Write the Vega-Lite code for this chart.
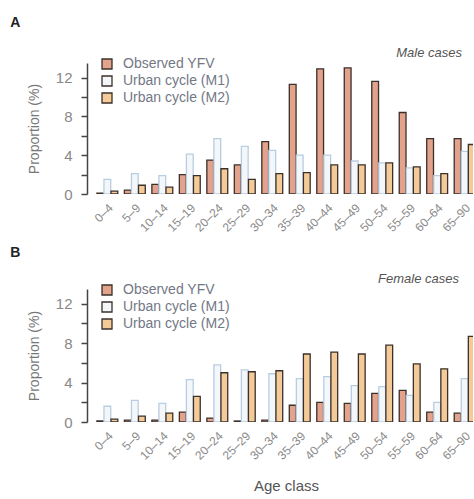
{
  "$schema": "https://vega.github.io/schema/vega-lite/v6.json",
  "padding": {"left": 10, "top": 15, "right": 0, "bottom": 4},
  "background": "white",
  "data": {"values": [
    {"sex": "Male", "age": "0–4", "series": "Observed YFV", "value": 0.1},
    {"sex": "Male", "age": "0–4", "series": "Urban cycle (M1)", "value": 1.5},
    {"sex": "Male", "age": "0–4", "series": "Urban cycle (M2)", "value": 0.3},
    {"sex": "Male", "age": "5–9", "series": "Observed YFV", "value": 0.4},
    {"sex": "Male", "age": "5–9", "series": "Urban cycle (M1)", "value": 2.1},
    {"sex": "Male", "age": "5–9", "series": "Urban cycle (M2)", "value": 0.9},
    {"sex": "Male", "age": "10–14", "series": "Observed YFV", "value": 1.0},
    {"sex": "Male", "age": "10–14", "series": "Urban cycle (M1)", "value": 1.9},
    {"sex": "Male", "age": "10–14", "series": "Urban cycle (M2)", "value": 0.7},
    {"sex": "Male", "age": "15–19", "series": "Observed YFV", "value": 2.0},
    {"sex": "Male", "age": "15–19", "series": "Urban cycle (M1)", "value": 4.1},
    {"sex": "Male", "age": "15–19", "series": "Urban cycle (M2)", "value": 1.9},
    {"sex": "Male", "age": "20–24", "series": "Observed YFV", "value": 3.5},
    {"sex": "Male", "age": "20–24", "series": "Urban cycle (M1)", "value": 5.7},
    {"sex": "Male", "age": "20–24", "series": "Urban cycle (M2)", "value": 2.6},
    {"sex": "Male", "age": "25–29", "series": "Observed YFV", "value": 3.0},
    {"sex": "Male", "age": "25–29", "series": "Urban cycle (M1)", "value": 4.9},
    {"sex": "Male", "age": "25–29", "series": "Urban cycle (M2)", "value": 1.5},
    {"sex": "Male", "age": "30–34", "series": "Observed YFV", "value": 5.4},
    {"sex": "Male", "age": "30–34", "series": "Urban cycle (M1)", "value": 4.5},
    {"sex": "Male", "age": "30–34", "series": "Urban cycle (M2)", "value": 2.1},
    {"sex": "Male", "age": "35–39", "series": "Observed YFV", "value": 11.3},
    {"sex": "Male", "age": "35–39", "series": "Urban cycle (M1)", "value": 4.0},
    {"sex": "Male", "age": "35–39", "series": "Urban cycle (M2)", "value": 2.2},
    {"sex": "Male", "age": "40–44", "series": "Observed YFV", "value": 12.9},
    {"sex": "Male", "age": "40–44", "series": "Urban cycle (M1)", "value": 4.0},
    {"sex": "Male", "age": "40–44", "series": "Urban cycle (M2)", "value": 3.0},
    {"sex": "Male", "age": "45–49", "series": "Observed YFV", "value": 13.0},
    {"sex": "Male", "age": "45–49", "series": "Urban cycle (M1)", "value": 3.4},
    {"sex": "Male", "age": "45–49", "series": "Urban cycle (M2)", "value": 3.0},
    {"sex": "Male", "age": "50–54", "series": "Observed YFV", "value": 11.6},
    {"sex": "Male", "age": "50–54", "series": "Urban cycle (M1)", "value": 3.2},
    {"sex": "Male", "age": "50–54", "series": "Urban cycle (M2)", "value": 3.2},
    {"sex": "Male", "age": "55–59", "series": "Observed YFV", "value": 8.4},
    {"sex": "Male", "age": "55–59", "series": "Urban cycle (M1)", "value": 2.7},
    {"sex": "Male", "age": "55–59", "series": "Urban cycle (M2)", "value": 2.8},
    {"sex": "Male", "age": "60–64", "series": "Observed YFV", "value": 5.7},
    {"sex": "Male", "age": "60–64", "series": "Urban cycle (M1)", "value": 1.9},
    {"sex": "Male", "age": "60–64", "series": "Urban cycle (M2)", "value": 2.1},
    {"sex": "Male", "age": "65–90", "series": "Observed YFV", "value": 5.7},
    {"sex": "Male", "age": "65–90", "series": "Urban cycle (M1)", "value": 4.4},
    {"sex": "Male", "age": "65–90", "series": "Urban cycle (M2)", "value": 5.1},
    {"sex": "Female", "age": "0–4", "series": "Observed YFV", "value": 0.1},
    {"sex": "Female", "age": "0–4", "series": "Urban cycle (M1)", "value": 1.6},
    {"sex": "Female", "age": "0–4", "series": "Urban cycle (M2)", "value": 0.3},
    {"sex": "Female", "age": "5–9", "series": "Observed YFV", "value": 0.2},
    {"sex": "Female", "age": "5–9", "series": "Urban cycle (M1)", "value": 2.2},
    {"sex": "Female", "age": "5–9", "series": "Urban cycle (M2)", "value": 0.6},
    {"sex": "Female", "age": "10–14", "series": "Observed YFV", "value": 0.2},
    {"sex": "Female", "age": "10–14", "series": "Urban cycle (M1)", "value": 1.9},
    {"sex": "Female", "age": "10–14", "series": "Urban cycle (M2)", "value": 0.9},
    {"sex": "Female", "age": "15–19", "series": "Observed YFV", "value": 1.0},
    {"sex": "Female", "age": "15–19", "series": "Urban cycle (M1)", "value": 4.3},
    {"sex": "Female", "age": "15–19", "series": "Urban cycle (M2)", "value": 2.6},
    {"sex": "Female", "age": "20–24", "series": "Observed YFV", "value": 0.4},
    {"sex": "Female", "age": "20–24", "series": "Urban cycle (M1)", "value": 5.8},
    {"sex": "Female", "age": "20–24", "series": "Urban cycle (M2)", "value": 5.0},
    {"sex": "Female", "age": "25–29", "series": "Observed YFV", "value": 0.1},
    {"sex": "Female", "age": "25–29", "series": "Urban cycle (M1)", "value": 5.3},
    {"sex": "Female", "age": "25–29", "series": "Urban cycle (M2)", "value": 5.1},
    {"sex": "Female", "age": "30–34", "series": "Observed YFV", "value": 0.2},
    {"sex": "Female", "age": "30–34", "series": "Urban cycle (M1)", "value": 4.9},
    {"sex": "Female", "age": "30–34", "series": "Urban cycle (M2)", "value": 5.2},
    {"sex": "Female", "age": "35–39", "series": "Observed YFV", "value": 1.7},
    {"sex": "Female", "age": "35–39", "series": "Urban cycle (M1)", "value": 4.4},
    {"sex": "Female", "age": "35–39", "series": "Urban cycle (M2)", "value": 6.9},
    {"sex": "Female", "age": "40–44", "series": "Observed YFV", "value": 2.0},
    {"sex": "Female", "age": "40–44", "series": "Urban cycle (M1)", "value": 4.6},
    {"sex": "Female", "age": "40–44", "series": "Urban cycle (M2)", "value": 7.1},
    {"sex": "Female", "age": "45–49", "series": "Observed YFV", "value": 1.9},
    {"sex": "Female", "age": "45–49", "series": "Urban cycle (M1)", "value": 3.7},
    {"sex": "Female", "age": "45–49", "series": "Urban cycle (M2)", "value": 6.9},
    {"sex": "Female", "age": "50–54", "series": "Observed YFV", "value": 2.9},
    {"sex": "Female", "age": "50–54", "series": "Urban cycle (M1)", "value": 3.6},
    {"sex": "Female", "age": "50–54", "series": "Urban cycle (M2)", "value": 7.8},
    {"sex": "Female", "age": "55–59", "series": "Observed YFV", "value": 3.2},
    {"sex": "Female", "age": "55–59", "series": "Urban cycle (M1)", "value": 2.7},
    {"sex": "Female", "age": "55–59", "series": "Urban cycle (M2)", "value": 5.9},
    {"sex": "Female", "age": "60–64", "series": "Observed YFV", "value": 1.0},
    {"sex": "Female", "age": "60–64", "series": "Urban cycle (M1)", "value": 2.0},
    {"sex": "Female", "age": "60–64", "series": "Urban cycle (M2)", "value": 5.4},
    {"sex": "Female", "age": "65–90", "series": "Observed YFV", "value": 0.9},
    {"sex": "Female", "age": "65–90", "series": "Urban cycle (M1)", "value": 4.4},
    {"sex": "Female", "age": "65–90", "series": "Urban cycle (M2)", "value": 8.7}
  ]},
  "config": {
    "view": {"stroke": null},
    "font": "Liberation Sans",
    "concat": {"spacing": 11},
    "axis": {"grid": false},
    "axisY": {"domainColor": "#444", "domainWidth": 1.5, "tickColor": "#444", "tickWidth": 1.5, "tickSize": 6, "labelFontSize": 15, "labelColor": "#888", "labelPadding": 9, "titleFontSize": 14, "titleFontWeight": "normal", "titleColor": "#777", "titlePadding": 14},
    "axisX": {"domain": false, "ticks": false, "labelAngle": -45, "labelFontSize": 12, "labelColor": "#8a8a8a", "labelPadding": 8, "titleFontSize": 15, "titleFontWeight": "normal", "titleColor": "#555", "titlePadding": 17},
    "legend": {"orient": "none", "legendX": 13, "legendY": -6, "title": null, "symbolType": "square", "symbolSize": 100, "symbolStrokeColor": "#3a302c", "symbolStrokeWidth": 1.3, "labelFontSize": 14, "labelColor": "#737885", "labelOffset": 9, "rowPadding": 1}
  },
  "resolve": {"scale": {"fill": "independent"}, "legend": {"fill": "independent"}},
  "vconcat": [
    {
      "title": {"text": "A", "anchor": "start", "frame": "bounds", "fontSize": 14, "fontWeight": "bold", "color": "#222", "dx": -17, "offset": 17},
      "resolve": {"scale": {"fill": "independent"}, "legend": {"fill": "independent"}},
      "vconcat": [
        {
          "title": {"text": "Male cases", "anchor": "end", "frame": "group", "fontSize": 13, "fontStyle": "italic", "fontWeight": "normal", "color": "#555", "dx": -11, "offset": -2.5},
          "width": 386,
          "height": 131,
          "transform": [{"filter": "datum.sex == 'Male'"}],
          "mark": {"type": "bar", "clip": true, "strokeWidth": 1.3},
          "encoding": {
            "x": {"field": "age", "type": "nominal", "sort": null, "scale": {"range": [0, 398], "paddingInner": 0.24, "paddingOuter": 0.36}, "axis": {"title": null}},
            "xOffset": {"field": "series", "type": "nominal", "sort": null, "scale": {"paddingInner": 0.04}},
            "y": {"field": "value", "type": "quantitative", "scale": {"domain": [0, 13.5], "nice": false}, "axis": {"values": [0, 2, 4, 6, 8, 10, 12], "labelExpr": "datum.value % 4 == 0 ? datum.label : ''", "title": "Proportion (%)"}},
            "fill": {"field": "series", "type": "nominal", "sort": null, "scale": {"domain": ["Observed YFV", "Urban cycle (M1)", "Urban cycle (M2)"], "range": ["#e3a28b", "#f3f7fa", "#f4cb98"]}},
            "stroke": {"condition": {"test": "datum.series == 'Urban cycle (M1)'", "value": "#b9cde0"}, "value": "#3a302c"}
          }
        }
      ]
    },
    {
      "title": {"text": "B", "anchor": "start", "frame": "bounds", "fontSize": 14, "fontWeight": "bold", "color": "#222", "dx": -17, "offset": 13},
      "resolve": {"scale": {"fill": "independent"}, "legend": {"fill": "independent"}},
      "vconcat": [
        {
          "title": {"text": "Female cases", "anchor": "end", "frame": "group", "fontSize": 13, "fontStyle": "italic", "fontWeight": "normal", "color": "#555", "dx": -14, "offset": -2.5},
          "width": 386,
          "height": 133,
          "transform": [{"filter": "datum.sex == 'Female'"}],
          "mark": {"type": "bar", "clip": true, "strokeWidth": 1.3},
          "encoding": {
            "x": {"field": "age", "type": "nominal", "sort": null, "scale": {"range": [0, 398], "paddingInner": 0.24, "paddingOuter": 0.36}, "axis": {"title": "Age class"}},
            "xOffset": {"field": "series", "type": "nominal", "sort": null, "scale": {"paddingInner": 0.04}},
            "y": {"field": "value", "type": "quantitative", "scale": {"domain": [0, 13.5], "nice": false}, "axis": {"values": [0, 2, 4, 6, 8, 10, 12], "labelExpr": "datum.value % 4 == 0 ? datum.label : ''", "title": "Proportion (%)"}},
            "fill": {"field": "series", "type": "nominal", "sort": null, "scale": {"domain": ["Observed YFV", "Urban cycle (M1)", "Urban cycle (M2)"], "range": ["#e3a28b", "#f3f7fa", "#f4cb98"]}},
            "stroke": {"condition": {"test": "datum.series == 'Urban cycle (M1)'", "value": "#b9cde0"}, "value": "#3a302c"}
          }
        }
      ]
    }
  ]
}
